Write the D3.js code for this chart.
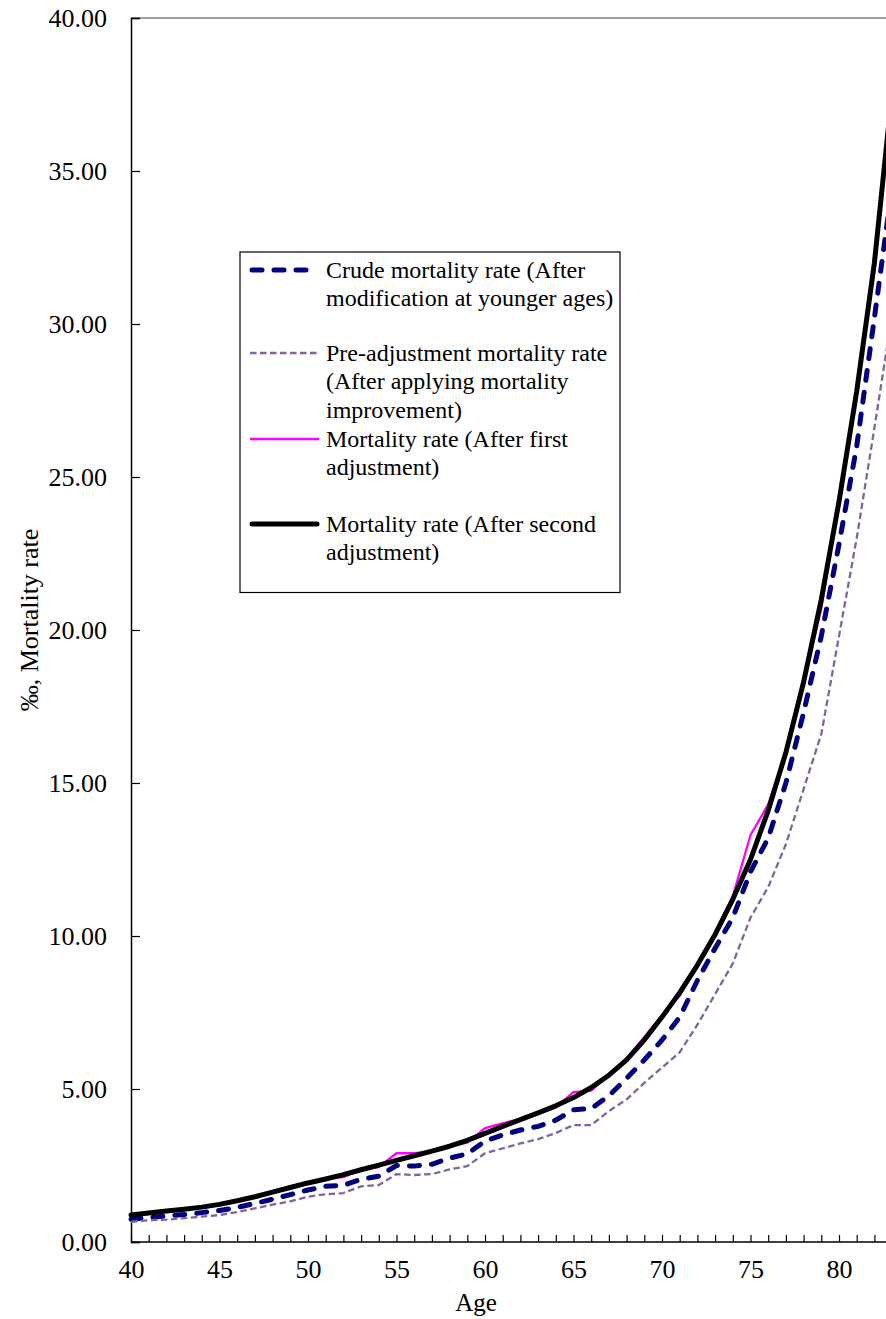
<!DOCTYPE html>
<html>
<head>
<meta charset="utf-8">
<script src="https://cdn.jsdelivr.net/npm/d3@7"></script>
<style>
  body { margin: 0; background: #fff; }
  svg { display: block; font-family: "Liberation Serif", "Times New Roman", serif; }
</style>
</head>
<body>
<div id="chart"></div>
<script>
// ages on the category axis
var ages = [40,41,42,43,44,45,46,47,48,49,50,51,52,53,54,55,56,57,58,59,60,61,
            62,63,64,65,66,67,68,69,70,71,72,73,74,75,76,77,78,79,80,81,82,83];

// Crude mortality rate (After modification at younger ages)
var crude = [0.74,0.80,0.85,0.90,0.96,1.03,1.13,1.26,1.40,1.55,1.70,1.82,1.85,2.05,2.15,
             2.50,2.48,2.54,2.74,2.88,3.30,3.50,3.66,3.78,3.98,4.32,4.36,4.78,5.35,5.95,
             6.60,7.35,8.55,9.60,10.60,12.10,13.20,15.00,17.30,19.80,22.80,26.00,30.20,34.50];

// Pre-adjustment mortality rate (After applying mortality improvement)
var preAdj = [0.66,0.71,0.73,0.78,0.83,0.88,0.98,1.10,1.22,1.33,1.48,1.56,1.60,1.82,1.86,
              2.22,2.19,2.22,2.37,2.48,2.90,3.06,3.22,3.36,3.56,3.82,3.82,4.28,4.66,5.20,
              5.70,6.20,7.10,8.10,9.10,10.60,11.60,13.00,14.80,16.60,19.80,23.00,26.60,30.30];

// Mortality rate (After first adjustment)
var firstAdj = [0.88,0.95,1.00,1.06,1.12,1.22,1.34,1.48,1.66,1.82,1.96,2.06,2.12,2.36,2.45,
                2.90,2.90,2.95,3.12,3.25,3.72,3.88,4.02,4.20,4.40,4.90,4.95,5.45,6.00,6.70,
                7.40,8.05,9.05,10.10,11.30,13.30,14.30,16.00,18.30,20.70,24.20,27.80,32.00,37.60];

// Mortality rate (After second adjustment)
var secondAdj = [0.88,0.95,1.01,1.07,1.14,1.23,1.35,1.48,1.63,1.78,1.93,2.06,2.20,2.36,2.51,
                 2.67,2.82,2.97,3.13,3.32,3.55,3.78,4.00,4.22,4.45,4.72,5.05,5.45,5.95,6.60,
                 7.35,8.15,9.05,10.05,11.20,12.50,14.10,16.00,18.30,21.00,24.20,27.80,32.00,37.60];

var yTicks = [0,5,10,15,20,25,30,35,40];
var xLabels = [40,45,50,55,60,65,70,75,80];

var legendLabels = [
  ["Crude mortality rate (After", "modification at younger ages)"],
  ["Pre-adjustment mortality rate", "(After applying mortality", "improvement)"],
  ["Mortality rate (After first", "adjustment)"],
  ["Mortality rate (After second", "adjustment)"]
];

var width = 886, height = 1319;
var plotLeft = 131, plotTop = 18, plotBottom = 1242;

var svg = d3.select("#chart").append("svg")
  .attr("width", width)
  .attr("height", height);

// plot area runs past the right edge of the picture
var x = d3.scaleLinear().domain([40, 83]).range([plotLeft, plotLeft + 43 * 17.7]);
var y = d3.scaleLinear().domain([0, 40]).range([plotBottom, plotTop]);

// top border of plot area
svg.append("line")
  .attr("x1", plotLeft).attr("x2", width)
  .attr("y1", plotTop).attr("y2", plotTop)
  .attr("stroke", "#808080").attr("stroke-width", 1.5);

// y axis
var yAxis = svg.append("g")
  .attr("transform", "translate(" + plotLeft + ",0)")
  .call(d3.axisLeft(y).tickValues(yTicks).tickSize(-9).tickPadding(24)
    .tickFormat(d3.format(".2f")));
yAxis.select(".domain").attr("stroke", "#000").attr("stroke-width", 1.5);
yAxis.selectAll(".tick line").attr("stroke", "#000").attr("stroke-width", 1.2);
yAxis.selectAll(".tick text")
  .attr("font-size", 26).attr("fill", "#000")
  .attr("font-family", "Liberation Serif");

// x axis
var xAxis = svg.append("g")
  .attr("transform", "translate(0," + plotBottom + ")")
  .call(d3.axisBottom(x).tickValues(ages).tickSize(-7).tickPadding(18)
    .tickFormat(function(d) { return xLabels.indexOf(d) >= 0 ? d : ""; }));
xAxis.select(".domain").attr("stroke", "#000").attr("stroke-width", 1.5)
  .attr("d", "M" + plotLeft + ",0H" + width);
xAxis.selectAll(".tick line").attr("stroke", "#000").attr("stroke-width", 1.2);
xAxis.selectAll(".tick text")
  .attr("font-size", 26).attr("fill", "#000")
  .attr("font-family", "Liberation Serif");

// axis titles
svg.append("text")
  .attr("x", 476).attr("y", 1311)
  .attr("text-anchor", "middle")
  .attr("font-size", 25)
  .text("Age");

svg.append("text")
  .attr("transform", "translate(38,620) rotate(-90)")
  .attr("text-anchor", "middle")
  .attr("font-size", 26)
  .text("\u2030,  Mortality rate");

// series
var series = [
  { values: crude,     color: "#000080", w: 5,   dash: "10,12",   cap: "round" },
  { values: preAdj,    color: "#8064A2", w: 2.3, dash: "6.5,3.5", cap: "butt" },
  { values: firstAdj,  color: "#FF00FF", w: 2.3, dash: null,      cap: "butt" },
  { values: secondAdj, color: "#000000", w: 5,   dash: null,      cap: "round" }
];

var line = d3.line()
  .x(function(d, i) { return x(ages[i]); })
  .y(function(d) { return y(d); });

var plot = svg.append("g");
series.forEach(function(s) {
  plot.append("path")
    .attr("d", line(s.values))
    .attr("fill", "none")
    .attr("stroke", s.color)
    .attr("stroke-width", s.w)
    .attr("stroke-dasharray", s.dash)
    .attr("stroke-linecap", s.cap)
    .attr("stroke-linejoin", "round");
});

// legend
var legend = svg.append("g");
legend.append("rect")
  .attr("x", 240).attr("y", 252)
  .attr("width", 380).attr("height", 340.5)
  .attr("fill", "#fff")
  .attr("stroke", "#000").attr("stroke-width", 1.2);

var entryY = [270, 353, 439, 524];
var lineH = 28.5;
series.forEach(function(s, i) {
  var g = legend.append("g");
  g.append("line")
    .attr("x1", s.cap == "round" ? 252 : 250)
    .attr("x2", s.cap == "round" ? 317 : 319)
    .attr("y1", entryY[i]).attr("y2", entryY[i])
    .attr("stroke", s.color)
    .attr("stroke-width", s.w)
    .attr("stroke-dasharray", s.dash)
    .attr("stroke-linecap", s.cap);
  legendLabels[i].forEach(function(t, k) {
    g.append("text")
      .attr("x", 326)
      .attr("y", entryY[i] + k * lineH)
      .attr("dy", "0.33em")
      .attr("font-size", 24)
      .text(t);
  });
});
</script>
</body>
</html>
